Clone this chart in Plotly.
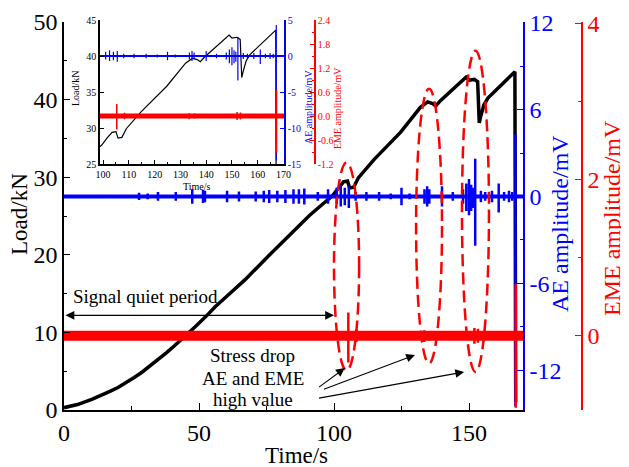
import plotly.graph_objects as go

# ---------------- data ----------------
time_s = [0, 5, 10.5, 14, 17, 20, 23, 26, 29, 32, 35.5, 38, 40, 42, 44.6, 48.5, 52.7, 56, 60.4,
          63.5, 67.1, 75, 83, 91, 99.4,
          101.5, 103.5, 105, 105.8, 107.3, 109, 114.9, 118.4, 124.7, 132, 134.7, 136.5,
          137.7, 139.5, 144, 148.9, 150, 152, 153.2, 153.5, 153.8, 154.3, 155.5, 157,
          162, 166.7, 167.0, 167.3]
load_kn = [0.3, 0.7, 1.4, 1.9, 2.4, 2.9, 3.5, 4.2, 4.9, 5.7, 6.6, 7.4, 8.0, 8.6, 9.4, 10.7, 12.1, 13.3, 14.7,
           15.7, 16.8, 19.6, 22.4, 25.1, 27.6,
           28.6, 29.4, 29.5, 28.6, 28.7, 29.9, 32.3, 33.5, 35.8, 39.0, 39.7, 39.5,
           39.2, 39.9, 41.4, 42.9, 42.5, 42.6, 42.3, 38.5, 37.0, 37.8, 39.3, 40.2,
           41.9, 43.6, 43.6, 1.0]

# AE bursts: time, upper and lower amplitude (mV)
ae_t = [27.8, 31, 34.8, 41.4, 47.5, 51.5, 52.2, 60.4, 64.8, 71, 74, 76, 79, 82, 85, 87, 89,
        94, 97.8, 101, 102.5, 104, 105.5, 108, 112, 116.7, 121, 125, 128, 133.5, 134.5,
        135.3, 140, 144, 147.8, 149, 150, 150.8, 151.5, 152.3, 154.4, 156, 158.5, 161,
        163, 164.8, 166, 167.2]
ae_hi = [0.25, 0.2, 0.3, 0.3, 0.5, 0.45, 0.4, 0.4, 0.35, 0.35, 0.4, 0.45, 0.4, 0.45, 0.5, 0.5, 0.55,
         0.3, 0.5, 0.6, 0.8, 0.6, 0.7, 0.3, 0.3, 0.3, 0.2, 0.6, 0.2, 0.5, 0.7,
         0.5, 0.7, 0.3, 0.5, 0.9, 1.2, 0.8, 0.6, 2.6, 0.4, 0.3, 0.4, 0.9,
         0.3, 0.4, 0.3, 4.3]
ae_lo = [-0.25, -0.2, -0.3, -0.3, -0.5, -0.45, -0.4, -0.4, -0.35, -0.35, -0.4, -0.45, -0.4, -0.45, -0.5, -0.5, -0.55,
         -0.3, -0.5, -0.5, -0.7, -0.6, -0.8, -0.3, -0.3, -0.3, -0.2, -0.6, -0.2, -0.5, -0.7,
         -0.5, -0.7, -0.3, -0.5, -1.0, -1.3, -1.0, -0.8, -3.4, -0.4, -0.3, -0.4, -1.1,
         -0.3, -0.4, -0.3, -14.5]

# EME bursts: time, upper and lower amplitude (mV)
eme_t = [105.3, 108.3, 133.4, 135.5, 152, 153.3, 167.3]
eme_hi = [0.30, 0.08, 0.07, 0.06, 0.1, 0.09, 0.66]
eme_lo = [-0.34, -0.08, -0.08, -0.06, -0.1, -0.09, -0.92]

signal_span = [0, 170.5]

# tick labels
ae_ticks = [-12, -6, 0, 6, 12]
ae_ticktext = ["-12", "-6", "0", "6", "12"]
eme_ticks = [0, 2, 4]
eme_ticktext = ["0", "2", "4"]
ae_inset_ticks = [-15, -10, -5, 0, 5]
ae_inset_ticktext = ["-15", "-10", "-5", "0", "5"]
eme_inset_ticks = [-1.2, -0.6, 0.0, 0.6, 1.2, 1.8, 2.4]
eme_inset_ticktext = ["-1.2", "-0.6", "0.0", "0.6", "1.2", "1.8", "2.4"]

# annotation content
ellipse_t = [[100, 109.3], [130.4, 140], [147.4, 157.4]]
ellipse_load = [[5.1, 31.9], [6.0, 41.4], [4.9, 46.3]]
quiet_span = [0, 100]
quiet_load = 12.2
arrow_tail = [[93.9, 2.8], [95.7, 2.6], [93.9, 1.5]]
arrow_head = [[104.0, 5.4], [130.0, 7.1], [148.2, 4.9]]

FONT = "Liberation Serif"
BLUE = "#0000FF"
RED = "#FF0000"


def spikes(ts, hi, lo, span):
    xs, ys = [span[0]], [0]
    for t, h, l in zip(ts, hi, lo):
        xs += [t, t, t, t]
        ys += [0, h, l, 0]
    xs.append(span[1])
    ys.append(0)
    return xs, ys


ae_x, ae_y = spikes(ae_t, ae_hi, ae_lo, signal_span)
eme_x, eme_y = spikes(eme_t, eme_hi, eme_lo, signal_span)

fig = go.Figure()
# main panel
fig.add_trace(go.Scatter(x=time_s, y=load_kn, mode="lines", line=dict(color="black", width=3.5),
                         xaxis="x", yaxis="y"))
fig.add_trace(go.Scatter(x=signal_span, y=[0, 0], mode="lines", line=dict(color=BLUE, width=4),
                         xaxis="x", yaxis="y2"))
fig.add_trace(go.Scatter(x=ae_x, y=ae_y, mode="lines", line=dict(color=BLUE, width=2.5),
                         xaxis="x", yaxis="y2"))
fig.add_trace(go.Scatter(x=signal_span, y=[0, 0], mode="lines", line=dict(color=RED, width=10),
                         xaxis="x", yaxis="y3"))
fig.add_trace(go.Scatter(x=eme_x, y=eme_y, mode="lines", line=dict(color=RED, width=2.5),
                         xaxis="x", yaxis="y3"))
# inset
fig.add_trace(go.Scatter(x=time_s, y=load_kn, mode="lines", line=dict(color="black", width=1.2),
                         xaxis="x2", yaxis="y4"))
fig.add_trace(go.Scatter(x=signal_span, y=[0, 0], mode="lines", line=dict(color=BLUE, width=2),
                         xaxis="x2", yaxis="y5"))
fig.add_trace(go.Scatter(x=ae_x, y=ae_y, mode="lines", line=dict(color=BLUE, width=1.2),
                         xaxis="x2", yaxis="y5"))
fig.add_trace(go.Scatter(x=signal_span, y=[0, 0], mode="lines", line=dict(color=RED, width=5),
                         xaxis="x2", yaxis="y6"))
fig.add_trace(go.Scatter(x=eme_x, y=eme_y, mode="lines", line=dict(color=RED, width=1.5),
                         xaxis="x2", yaxis="y6"))

# the page body adds an 8px offset; the figure is sized so the plot lands at the reference pixels
OFF = 8
W, H = 629 - OFF, 467 - OFF
ML, MT = 64 - OFF, 20 - OFF
PW, PH = 550, 390
MR, MB = W - ML - PW, H - MT - PH


def px(xp):
    return (xp - OFF - ML) / PW


def py(yp):
    return (MT + PH - (yp - OFF)) / PH


def axis_common(color, size, dtick, minor_dtick, ticklen=6, mlen=3.5, tickvals=None, ticktext=None):
    d = dict(showline=True, linecolor=color, linewidth=1.5, ticks="inside", tickcolor=color,
             ticklen=ticklen, tickwidth=1.3, automargin=False,
             minor=dict(dtick=minor_dtick, tick0=0, ticks="inside", ticklen=mlen, tickcolor=color,
                        tickwidth=1.2),
             tickfont=dict(family=FONT, size=size, color=color), showgrid=False, zeroline=False)
    if tickvals is None:
        d.update(dtick=dtick, tick0=0)
    else:
        d.update(tickmode="array", tickvals=tickvals, ticktext=ticktext)
    return d


main_top = py(22)
fig.update_layout(
    width=W, height=H, margin=dict(l=ML, r=MR, t=MT, b=MB, pad=0, autoexpand=False),
    paper_bgcolor="white", plot_bgcolor="white", showlegend=False,
    xaxis=dict(domain=[0, px(523)], range=[0, 170], anchor="y",
               **axis_common("black", 24, 50, 25, 7, 4)),
    yaxis=dict(domain=[0, main_top], range=[0, 50], anchor="x",
               **axis_common("black", 24, 10, 5, 6, 3.5)),
    yaxis2=dict(overlaying="y", side="right", anchor="x", range=[-14.75, 12.05],
                **axis_common(BLUE, 24, 6, 3, 6, 3.5, ae_ticks, ae_ticktext)),
    yaxis3=dict(overlaying="y", side="right", anchor="free", position=px(582), range=[-0.95, 4.02],
                **axis_common(RED, 24, 2, 1, 6, 3.5, eme_ticks, eme_ticktext)),
    xaxis2=dict(domain=[px(100), px(284)], range=[98.8, 170.2], anchor="y4",
                **axis_common("black", 10, 10, 5, 4, 2.5)),
    yaxis4=dict(domain=[py(164), py(20)], range=[25, 45], anchor="x2",
                **axis_common("black", 10, 5, 5, 4, 2.5)),
    yaxis5=dict(overlaying="y4", side="right", anchor="x2", range=[-15, 5],
                **axis_common(BLUE, 10, 5, 5, 4, 2.5, ae_inset_ticks, ae_inset_ticktext)),
    yaxis6=dict(overlaying="y4", side="right", anchor="free", position=px(315), range=[-1.2, 2.4],
                **axis_common(RED, 10, 0.6, 0.3, 4, 2.5, eme_inset_ticks, eme_inset_ticktext)),
)

shapes = []
for (t0, t1), (l0, l1) in zip(ellipse_t, ellipse_load):
    shapes.append(dict(type="circle", xref="x", yref="y", x0=t0, x1=t1, y0=l0, y1=l1,
                       line=dict(color=RED, width=2.5, dash="12px,6px")))
fig.update_layout(shapes=shapes)

ann = []


def title(text, x, y, size, color="black", angle=0):
    ann.append(dict(text=text, x=px(x), y=py(y), xref="paper", yref="paper", showarrow=False,
                    textangle=angle, font=dict(family=FONT, size=size, color=color),
                    xanchor="center", yanchor="middle"))


title("Load/kN", 19, 214, 23, angle=-90)
title("Time/s", 296, 455, 23)
title("AE amplitude/mV", 560, 224, 24, BLUE, -90)
title("EME amplitude/mV", 612, 218, 24, RED, -90)
title("Load/kN", 75, 88, 10, angle=-90)
title("Time/s", 197, 186, 10)
title("AE amplitude/mV", 308, 107, 10, BLUE, -90)
title("EME amplitude/mV", 338, 108, 10, RED, -90)

# double arrow for quiet period
ann.append(dict(x=quiet_span[1], y=quiet_load, ax=quiet_span[0], ay=quiet_load, xref="x", yref="y",
                axref="x", ayref="y", text="", showarrow=True, arrowhead=2, arrowside="end+start",
                arrowsize=1.6, arrowwidth=1.1, arrowcolor="black", standoff=0, startstandoff=0))
ann.append(dict(x=2.6, y=14.6, xref="x", yref="y", text="Signal quiet period", showarrow=False,
                xanchor="left", yanchor="middle", font=dict(family=FONT, size=19, color="black")))
for txt, yy in [("Stress drop", 7.0), ("AE and EME", 4.1), ("high value", 1.3)]:
    ann.append(dict(x=69.9, y=yy, xref="x", yref="y", text=txt, showarrow=False,
                    xanchor="center", yanchor="middle", font=dict(family=FONT, size=19, color="black")))
for (tx, ty), (hx, hy) in zip(arrow_tail, arrow_head):
    ann.append(dict(x=hx, y=hy, ax=tx, ay=ty, xref="x", yref="y", axref="x", ayref="y", text="",
                    showarrow=True, arrowhead=2, arrowsize=1.6, arrowwidth=1.1, arrowcolor="black",
                    standoff=0))
fig.update_layout(annotations=ann)

fig.write_html("out.html")
